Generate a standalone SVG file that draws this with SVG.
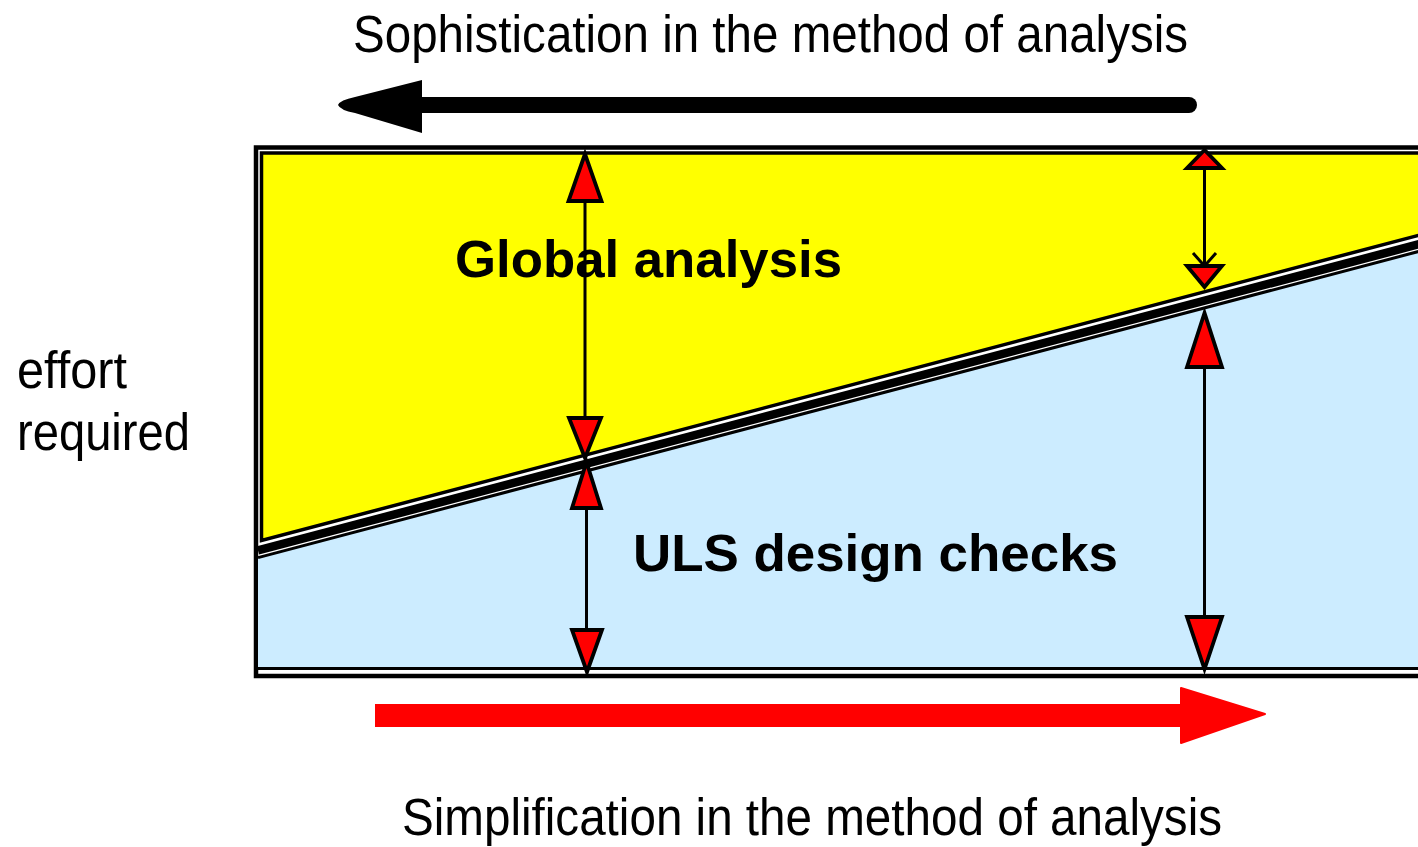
<svg xmlns="http://www.w3.org/2000/svg" width="1418" height="847" viewBox="0 0 1418 847">
  <style>
    .narrow { font-family: "Liberation Sans Narrow", "Liberation Sans", Arial, sans-serif; font-size: 51px; fill: #000; }
    .bold { font-family: "Liberation Sans", Arial, sans-serif; font-weight: bold; font-size: 52px; fill: #000; }
    .shaft { stroke: #000; stroke-width: 3; fill: none; }
    .head { fill: #FF0000; stroke: #000; stroke-width: 3.8; stroke-linejoin: miter; }
  </style>
  <rect width="1418" height="847" fill="#FFFFFF"/>

  <!-- frame with double border -->
  <g id="frame">
    <rect x="256" y="147.5" width="1200" height="528.5" fill="#FFFFFF" stroke="#000" stroke-width="4.5"/>
  </g>

  <!-- lower region: ULS design checks -->
  <g id="uls-region">
    <polygon points="258,558 1425,250.2 1425,667 258,667" fill="#CCECFF"/>
    <line x1="258" y1="668.5" x2="1425" y2="668.5" stroke="#000" stroke-width="3.2"/>
    <text class="bold" x="633" y="571" textLength="485" lengthAdjust="spacingAndGlyphs">ULS design checks</text>
  </g>

  <!-- upper region: global analysis -->
  <g id="global-region">
    <polygon points="261.5,153 1425,153 1425,233.6 261.5,540.5" fill="#FFFF00" stroke="#000" stroke-width="3.5"/>
    <text class="bold" x="455" y="277" textLength="387" lengthAdjust="spacingAndGlyphs">Global analysis</text>
  </g>

  <!-- sloped boundary band -->
  <g id="boundary">
    <line x1="258" y1="550.4" x2="1425" y2="242.6" stroke="#000" stroke-width="8.5"/>
    <line x1="258" y1="557.6" x2="1425" y2="249.8" stroke="#000" stroke-width="3"/>
  </g>

  <!-- dimension arrows -->
  <g id="connectors">
    <!-- left pair -->
    <line class="shaft" x1="585" y1="170" x2="585" y2="440"/>
    <polygon class="head" points="585,154 568.5,201 601.5,201"/>
    <polygon class="head" points="569,418 601,418 585,458"/>
    <line class="shaft" x1="586.5" y1="480" x2="586.5" y2="650"/>
    <polygon class="head" points="586.5,462 572,508 601,508"/>
    <polygon class="head" points="572,630 602,630 587,672"/>
    <!-- right pair -->
    <line class="shaft" x1="1204.5" y1="160" x2="1204.5" y2="270"/>
    <polyline class="shaft" points="1193,253 1204.5,266 1216,253"/>
    <polygon class="head" points="1204.5,150 1187,168 1222,168"/>
    <polygon class="head" points="1187,266 1222,266 1204.5,287"/>
    <line class="shaft" x1="1204.5" y1="330" x2="1204.5" y2="650"/>
    <polygon class="head" points="1204.5,313 1187,367 1222,367"/>
    <polygon class="head" points="1187,617 1222,617 1204.5,669"/>
  </g>

  <!-- direction arrows -->
  <g id="sophistication-arrow">
    <line x1="422" y1="105" x2="1189" y2="105" stroke="#000" stroke-width="16" stroke-linecap="round"/>
    <path d="M338,105 Q340,100 355,97 L422,80 L422,133 L355,113 Q340,110 338,105 Z" fill="#000"/>
    <text class="narrow" x="353" y="52" textLength="835" lengthAdjust="spacingAndGlyphs">Sophistication in the method of analysis</text>
  </g>

  <g id="simplification-arrow">
    <rect x="375" y="704" width="808" height="23" fill="#FF0000"/>
    <polygon points="1181,688 1265,714 1181,743" fill="#FF0000" stroke="#FF0000" stroke-width="2" stroke-linejoin="round"/>
    <text class="narrow" x="402" y="835" textLength="820" lengthAdjust="spacingAndGlyphs">Simplification in the method of analysis</text>
  </g>

  <!-- axis label -->
  <g id="effort-label">
    <text class="narrow" x="17" y="388" textLength="110" lengthAdjust="spacingAndGlyphs">effort</text>
    <text class="narrow" x="17" y="450" textLength="173" lengthAdjust="spacingAndGlyphs">required</text>
  </g>
</svg>
